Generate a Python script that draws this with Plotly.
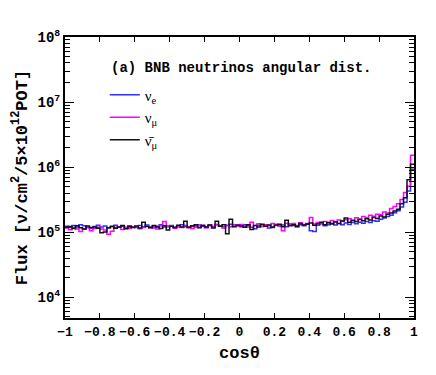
import numpy as np
import plotly.graph_objects as go

# cos(theta) binning: 100 bins from -1 to 1
bin_edges = np.linspace(-1.0, 1.0, 101)

# flux per bin, in units of 1e3 nu/cm2/5e12 POT
flux_nue_k = [
    124, 118, 127, 121, 130, 126, 119, 115, 123, 128,
    120, 125, 117, 122, 128, 119, 124, 116, 126, 121,
    118, 127, 122, 129, 120, 116, 124, 130, 121, 125,
    127, 119, 123, 131, 122, 117, 126, 121, 129, 124,
    118, 128, 123, 132, 125, 120, 127, 133, 124, 129,
    122, 130, 126, 119, 113, 128, 124, 131, 116, 118,
    131, 125, 129, 122, 134, 127, 121, 130, 126, 133,
    106, 103, 128, 135, 126, 131, 138, 129, 136, 130,
    139, 132, 141, 135, 143, 138, 146, 141, 150, 148,
    158, 165, 174, 183, 200, 214, 245, 290, 430, 930,
]
flux_numu_k = [
    116, 109, 118, 112, 103, 111, 117, 106, 114, 119,
    112, 108, 93, 104, 118, 121, 110, 119, 114, 122,
    120, 113, 118, 124, 116, 122, 112, 125, 146, 121,
    126, 115, 122, 118, 127, 120, 114, 125, 119, 128,
    117, 127, 121, 130, 124, 116, 128, 122, 131, 125,
    132, 124, 120, 142, 127, 135, 123, 131, 126, 137,
    133, 126, 106, 138, 130, 136, 127, 140, 132, 137,
    168, 134, 141, 136, 146, 139, 151, 144, 155, 149,
    156, 162, 153, 167, 160, 174, 168, 182, 176, 190,
    186, 205, 198, 232, 248, 275, 320, 410, 510, 1520,
]
flux_numubar_k = [
    119, 123, 114, 126, 117, 112, 125, 118, 121, 115,
    98, 101, 117, 124, 115, 121, 127, 113, 122, 118,
    125, 116, 142, 123, 118, 127, 120, 114, 126, 108,
    124, 118, 128, 121, 148, 119, 125, 130, 117, 127,
    121, 129, 116, 148, 124, 131, 95, 159, 122, 128,
    126, 119, 130, 110, 127, 121, 133, 124, 129, 120,
    128, 133, 122, 153, 126, 131, 124, 136, 129, 134,
    139, 128, 135, 142, 130, 141, 134, 145, 137, 149,
    165, 142, 151, 146, 157, 150, 162, 155, 168, 163,
    178, 172, 190, 198, 212, 226, 275, 340, 640, 1110,
]

series = [
    ("\u03bd<sub>e</sub>", flux_nue_k, "#3030ff"),
    ("\u03bd<sub>\u03bc</sub>", flux_numu_k, "#ff00ff"),
    ("\u03bd\u0304<sub>\u03bc</sub>", flux_numubar_k, "#111111"),
]

y_range = [3.683, 8]
major_exps = [4, 5, 6, 7, 8]
minor_vals = [m * 10 ** e for e in range(3, 8) for m in range(2, 10)]
x_ticks = [-1, -0.8, -0.6, -0.4, -0.2, 0, 0.2, 0.4, 0.6, 0.8, 1]

font_main = "Liberation Mono"

fig = go.Figure()
for name, vals, color in series:
    y = [v * 1e3 for v in vals]
    fig.add_trace(go.Scatter(
        x=bin_edges,
        y=y + [y[-1]],
        mode="lines",
        line=dict(color=color, width=1.5, shape="hv"),
        name=name,
    ))

# invisible helpers so the minor-tick axes get drawn
for ax in ["y2", "y3"]:
    fig.add_trace(go.Scatter(x=[0], y=[1e5], yaxis=ax, mode="markers",
                             marker=dict(opacity=0), showlegend=False,
                             hoverinfo="skip"))

fig.add_annotation(
    text="<b>(a) BNB neutrinos angular dist.</b>",
    xref="paper", yref="paper", x=0.126, y=0.89,
    xanchor="left", yanchor="middle", showarrow=False,
    font=dict(family=font_main, size=14, color="black"),
)

tickfont = dict(family=font_main, size=13, color="black", weight="bold")
minor_axis = dict(
    type="log", range=y_range, overlaying="y", tickmode="array",
    tickvals=minor_vals, showticklabels=False, ticks="inside", ticklen=5,
    tickcolor="black", showgrid=False, zeroline=False, showline=False,
)

# page body has an 8px default margin, so the margins absorb that offset
fig.update_layout(
    width=436, height=375,
    margin=dict(l=45, r=30, t=29, b=65),
    paper_bgcolor="white", plot_bgcolor="white",
    font=dict(family=font_main, color="black"),
    showlegend=True,
    legend=dict(
        x=0.114, y=0.852, xanchor="left", yanchor="top",
        bgcolor="rgba(0,0,0,0)", itemwidth=30,
        font=dict(family="Liberation Serif", size=15),
        tracegroupgap=4,
    ),
    xaxis=dict(
        range=[-1, 1], tickmode="array", tickvals=x_ticks,
        ticktext=[f"{t:g}".replace("-", "\u2212") for t in x_ticks],
        tickangle=0,
        ticks="inside", ticklen=5, tickcolor="black",
        showline=True, linewidth=2, linecolor="black", mirror="ticks",
        showgrid=False, zeroline=False,
        tickfont=tickfont,
        title=dict(text="<b>cos\u03b8</b>", font=dict(family=font_main, size=17), standoff=8),
    ),
    yaxis=dict(
        type="log", range=y_range, tickmode="array",
        tickvals=[10 ** e for e in major_exps],
        ticktext=[f"10<sup>{e}</sup>" for e in major_exps],
        ticks="inside", ticklen=9, tickcolor="black",
        showline=True, linewidth=2, linecolor="black", mirror="ticks",
        showgrid=False, zeroline=False,
        tickfont=dict(tickfont, size=14),
        title=dict(text="<b>Flux [\u03bd/cm<sup>2</sup>/5\u00d710<sup>12</sup>POT]</b>",
                   font=dict(family=font_main, size=17), standoff=6),
    ),
    yaxis2=dict(side="left", **minor_axis),
    yaxis3=dict(side="right", **minor_axis),
)

fig.write_html("out.html")
